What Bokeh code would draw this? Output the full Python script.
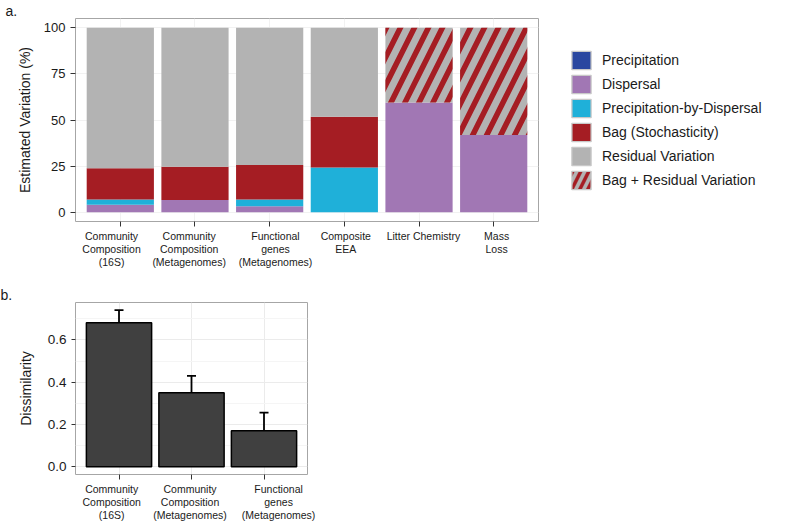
from bokeh.plotting import figure
from bokeh.models import (FactorRange, Range1d, Legend, LegendItem, Whisker, TeeHead,
                          ColumnDataSource, FixedTicker, PrintfTickFormatter)
from bokeh.layouts import column
from bokeh.transform import stack
from bokeh.embed import file_html
from bokeh.resources import INLINE

FONT = "Liberation Sans"
TXT = "#1a1a1a"
NBSP = "\u00a0"
NAN = float("nan")

# ---------------- data: panel a ----------------
categories_a = ["Community\nComposition\n(16S)", "Community\nComposition\n(Metagenomes)",
                "Functional\ngenes\n(Metagenomes)", "Composite\nEEA", "Litter Chemistry", "Mass\nLoss"]
layer_names = ["Precipitation", "Dispersal", "Precipitation-by-Dispersal",
               "Bag (Stochasticity)", "Residual Variation", "Bag + Residual Variation"]
precipitation = [0.0, 0.0, 0.0, 0.0, 0.0, 0.0]
dispersal = [4.1, 6.7, 3.2, 0.0, 59.5, 41.9]
precip_by_dispersal = [2.8, 0.0, 3.7, 24.3, 0.0, 0.0]
bag = [16.9, 18.0, 18.7, 27.5, 0.0, 0.0]
residual = [76.2, 75.3, 74.4, 48.2, 0.0, 0.0]
bag_residual = [0.0, 0.0, 0.0, 0.0, 40.5, 58.1]
layer_colors = ["#2A47A0", "#A177B4", "#1FB0D9", "#A51D23", "#B3B3B3", "#B3B3B3"]
y_ticks_a = [0, 25, 50, 75, 100]

# ---------------- data: panel b ----------------
categories_b = ["Community\nComposition\n(16S)", "Community\nComposition\n(Metagenomes)",
                "Functional\ngenes\n(Metagenomes)"]
dissimilarity = [0.681, 0.350, 0.170]
dissimilarity_upper = [0.741, 0.430, 0.256]
y_ticks_b = [0.0, 0.2, 0.4, 0.6]
y_minor_b = [0.1, 0.3, 0.5, 0.7]

# small horizontal nudges of the tick-label blocks (in space widths; <0 left, >0 right)
label_nudge_a = [-6, -4, 4, 1, 3, 2]
label_nudge_b = [-5, -1, 10]


def nudged(label, n):
    lines = label.split("\n")
    if n < 0:
        lines = [ln + NBSP * (-n) for ln in lines]
    elif n > 0:
        lines = [NBSP * n + ln for ln in lines]
    return "\n".join(lines)


factors_a = [nudged(c, n) for c, n in zip(categories_a, label_nudge_a)]
factors_b = [nudged(c, n) for c, n in zip(categories_b, label_nudge_b)]

keys = ["precipitation", "dispersal", "pxd", "bag", "residual", "bag_residual"]
src_a = ColumnDataSource(dict(cat=factors_a, precipitation=precipitation, dispersal=dispersal,
                              pxd=precip_by_dispersal, bag=bag, residual=residual,
                              bag_residual=bag_residual))

HATCH_RED = "#A51D23"


def style_axes(p, tick_size, left):
    for ax in (p.xaxis[0], p.yaxis[0]):
        ax.axis_line_color = None
        ax.major_tick_line_color = "#333333"
        ax.major_tick_out = 5
        ax.major_tick_in = 0
        ax.minor_tick_line_color = None
        ax.major_label_text_font = FONT
        ax.major_label_text_color = TXT
        ax.axis_label_text_font = FONT
        ax.axis_label_text_font_style = "normal"
        ax.axis_label_text_color = TXT
        ax.axis_label_text_font_size = "14px"
    p.yaxis.major_label_text_font_size = tick_size
    p.xaxis.major_label_text_font_size = "10.5px"
    p.xaxis.major_label_text_line_height = 1.12
    p.xaxis.major_label_standoff = 3
    p.yaxis.major_label_standoff = 5
    p.outline_line_color = "#A6A6A6"
    p.outline_line_width = 1
    p.title.align = "left"
    p.title.offset = -left
    p.title.standoff = 0
    p.title.text_font = FONT
    p.title.text_font_size = "14px"
    p.title.text_font_style = "normal"
    p.title.text_color = TXT


# ---------------- panel a ----------------
pa = figure(x_range=FactorRange(factors=factors_a, range_padding=0.1, range_padding_units="absolute"),
            y_range=Range1d(-5, 105), frame_width=463, frame_height=203, title="a.",
            min_border_left=70, min_border_right=251, min_border_top=13, min_border_bottom=63,
            output_backend="svg", toolbar_location=None)
style_axes(pa, "13px", 70)
pa.yaxis.ticker = FixedTicker(ticks=y_ticks_a)
pa.ygrid.ticker = FixedTicker(ticks=y_ticks_a)
pa.ygrid.grid_line_color = "#F2F2F2"
pa.xgrid.grid_line_color = "#F2F2F2"
pa.yaxis.axis_label = "Estimated Variation (%)"
pa.yaxis.axis_label_standoff = 8

for i, k in enumerate(keys):
    hatch = "/" if k == "bag_residual" else " "
    bottom = stack(*keys[:i]) if i > 0 else 0
    pa.vbar(x="cat", width=0.9, bottom=bottom, top=stack(*keys[:i + 1]), source=src_a,
            fill_color=layer_colors[i], line_color=None,
            hatch_pattern=hatch, hatch_color=HATCH_RED, hatch_scale=28, hatch_weight=5.5)

# legend-only renderers (their single bar has no finite extent, so nothing is drawn in the plot)
items = []
for i, name in enumerate(layer_names):
    hatch = "/" if i == 5 else " "
    r = pa.vbar(x=[factors_a[0]], bottom=[NAN], top=[NAN], width=0.9, fill_color=layer_colors[i],
                line_color="#C8C8C8", line_width=1.3, hatch_pattern=hatch, hatch_color=HATCH_RED,
                hatch_scale=16, hatch_weight=3.5)
    items.append(LegendItem(label=name, renderers=[r]))

legend = Legend(items=items, location="left", margin=31, padding=10, glyph_width=24, glyph_height=23,
                label_height=23, spacing=1, label_standoff=9, label_text_font=FONT,
                label_text_font_size="14px", label_text_color=TXT, border_line_color=None,
                background_fill_alpha=0)
pa.add_layout(legend, "right")

# ---------------- panel b ----------------
src_b = ColumnDataSource(dict(cat=factors_b, value=dissimilarity, upper=dissimilarity_upper))
pb = figure(x_range=FactorRange(factors=factors_b, range_padding=0.1, range_padding_units="absolute"),
            y_range=Range1d(-0.037, 0.777), frame_width=232, frame_height=172, title="b.",
            min_border_left=75, min_border_right=10, min_border_top=11, min_border_bottom=42,
            output_backend="svg", toolbar_location=None)
style_axes(pb, "13.5px", 75)
pb.yaxis.ticker = FixedTicker(ticks=y_ticks_b, minor_ticks=y_minor_b)
pb.ygrid.ticker = FixedTicker(ticks=y_ticks_b, minor_ticks=y_minor_b)
pb.yaxis.formatter = PrintfTickFormatter(format="%.1f")
pb.ygrid.grid_line_color = "#EBEBEB"
pb.ygrid.minor_grid_line_color = "#F5F5F5"
pb.xgrid.grid_line_color = "#EBEBEB"
pb.yaxis.axis_label = "Dissimilarity"
pb.yaxis.axis_label_standoff = 11
pb.yaxis.major_tick_out = 4

pb.vbar(x="cat", top="value", width=0.9, source=src_b, fill_color="#404040",
        line_color="black", line_width=1.5)
pb.add_layout(Whisker(base="cat", lower="value", upper="upper", source=src_b, dimension="height",
                      line_color="black", line_width=1.8,
                      upper_head=TeeHead(size=9, line_width=1.8, line_color="black"),
                      lower_head=None))

layout = column(pa, pb, spacing=0)
open("out.html", "w").write(file_html(layout, INLINE))
